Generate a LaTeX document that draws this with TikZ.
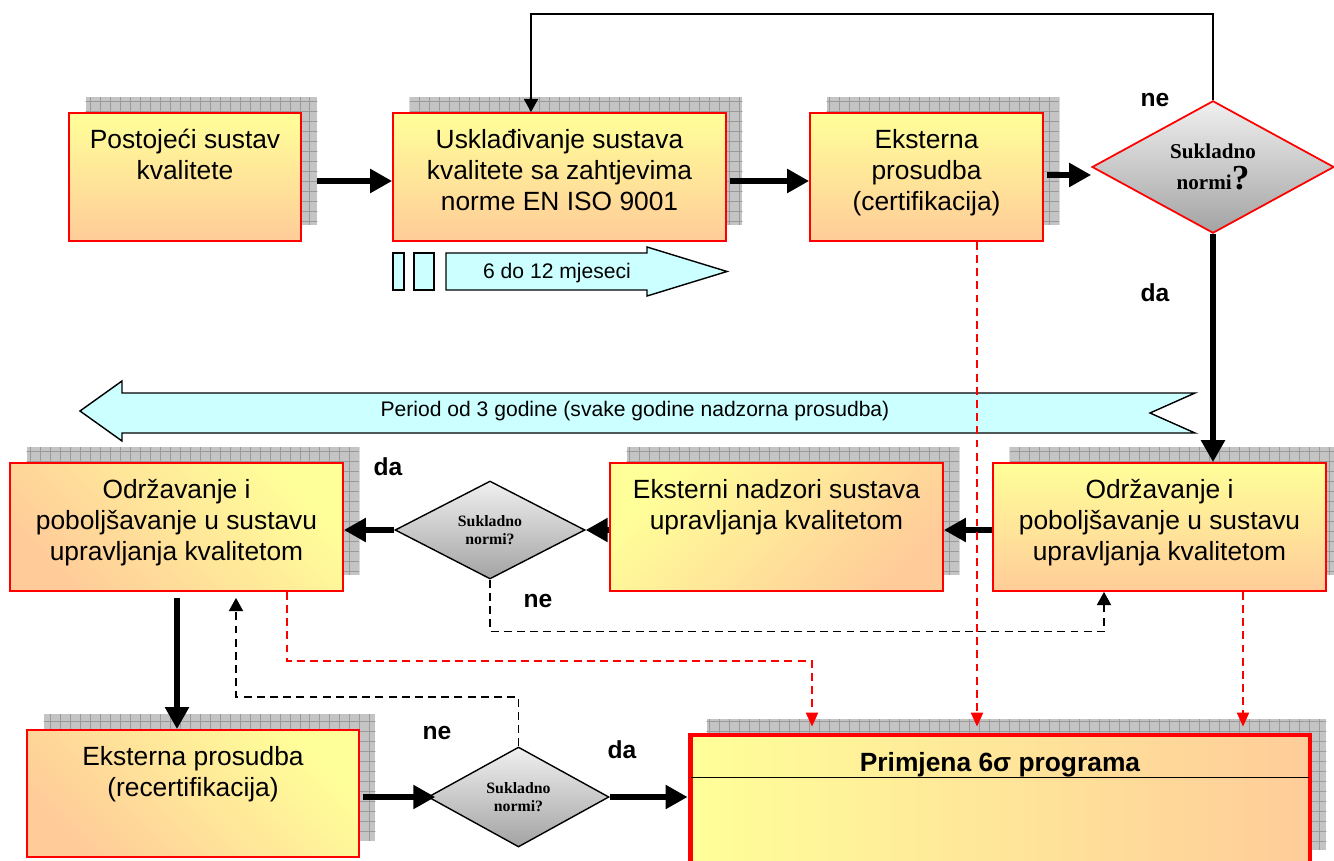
\documentclass[tikz,border=0pt]{standalone}
\usepackage{fontspec}
\setmainfont{Liberation Sans}
\newfontfamily\tnr{Liberation Serif}
\usetikzlibrary{arrows.meta,calc,positioning,shapes.geometric,shadows,patterns.meta}
\definecolor{boxY}{HTML}{FFFF99}
\definecolor{boxO}{HTML}{FFCC99}
\definecolor{boxD}{HTML}{FF0000}
\definecolor{shadeF}{HTML}{C4C4C4}
\definecolor{shadeD}{HTML}{9A9A9A}
\definecolor{blockF}{HTML}{CCFFFF}
\tikzset{
  boxshadow/.style={general shadow={shadow xshift=0.33cm, shadow yshift=0.32cm, fill=shadeF},
                    general shadow={shadow xshift=0.33cm, shadow yshift=0.32cm,
                      pattern={Hatch[angle=0,distance=0.2cm,line width=0.5pt]}, pattern color=shadeD}},
  box/.style={boxshadow, draw=boxD, line width=1pt, top color=boxY, bottom color=boxO,
              minimum width=6.66cm, minimum height=2.56cm, inner sep=0pt},
  boxtxt/.style={label={[btext]north:{#1}}},
  btext/.style={anchor=north, yshift=-9.5pt, align=center, inner sep=0pt,
                font=\fontsize{15}{17.6}\selectfont},
  chk/.style={diamond, draw=black, line width=0.8pt, top color=gray!12, bottom color=gray!72,
              inner sep=0pt, align=center, font=\tnr\bfseries\fontsize{9}{10}\selectfont},
  big/.style={-{Triangle[length=12.5pt,width=13pt]}, line width=3.5pt},
  thinarr/.style={-{Triangle[length=7.5pt,width=8pt]}, line width=0.9pt},
  back/.style={thinarr, dash pattern=on 4.5pt off 3pt},
  rback/.style={-{Triangle[length=8pt,width=7pt]}, draw=red, line width=0.8pt, dash pattern=on 4.5pt off 3pt},
  lab/.style={font=\bfseries\fontsize{14}{16}\selectfont},
  blockarr/.style={draw, line width=0.8pt, fill=blockF, line join=miter},
}

\begin{document}
\begin{tikzpicture}[x=0.02cm, y=-0.02cm]
\useasboundingbox (0,0) rectangle (1334,861);
% top row
\node[box, minimum width=4.64cm, boxtxt={Postojeći sustav\\kvalitete}] (postoj) at (185,177) {};
\node[box, boxtxt={Usklađivanje sustava\\kvalitete sa zahtjevima\\norme EN ISO 9001}] (uskl) at (559.5,177) {};
\node[box, minimum width=4.66cm, boxtxt={Eksterna\\prosudba\\(certifikacija)}] (certif) at (926.5,177) {};
\node[chk, draw=red, line width=1pt, minimum width=4.84cm, minimum height=2.54cm,
      font=\tnr\bfseries\fontsize{12}{18}\selectfont] (chkA) at (1213,167) {Sukladno\\normi{\fontsize{20}{18}\selectfont ?}};
% middle row
\node[box, boxtxt={Održavanje i\\poboljšavanje u sustavu\\upravljanja kvalitetom}] (odrzR) at (1159.5,527) {};
\node[box, shading angle=45, boxtxt={Eksterni nadzori sustava\\upravljanja kvalitetom}] (nadzor) at (776.5,527) {};
\node[chk, minimum width=3.8cm, minimum height=1.96cm] (chkB) at (490,530) {Sukladno\\normi?};
\node[box, shading angle=-45, boxtxt={Održavanje i\\poboljšavanje u sustavu\\upravljanja kvalitetom}] (odrzL) at (176.5,527) {};
% bottom row
\node[box, minimum width=6.64cm, minimum height=2.54cm, shading angle=-45,
      boxtxt={Eksterna prosudba\\(recertifikacija)}] (recert) at (193,793.5) {};
\node[chk, minimum width=3.62cm, minimum height=2cm] (chkC) at (518.5,797) {Sukladno\\normi?};
\node[box, left color=boxY, right color=boxO, line width=2.8pt,
      minimum width=12.4cm, minimum height=2.62cm] (primj) at (1000,800.5) {};
\draw[line width=1pt] ($(primj.north west)+(3,45)$) -- ($(primj.north east)+(-3,45)$);
\node[font=\bfseries\fontsize{15}{17}\selectfont] (primjT) at (1000,765) {Primjena 6σ programa};

% duration arrows
\draw[blockarr] (393,253) rectangle (404,290);
\draw[blockarr] (414,253) rectangle (434,290);
\draw[blockarr] (446,253) -- (647,253) -- (647,247) -- (727,271.5) -- (647,296) -- (647,290) -- (446,290) -- cycle;
\node[font=\fontsize{12}{14}\selectfont] (durA) at (557,273) {6 do 12 mjeseci};
\draw[blockarr] (80,411) -- (122,381) -- (122,393) -- (1195,393) -- (1150,413) -- (1195,433)
  -- (122,433) -- (122,441) -- cycle;
\node[font=\fontsize{12}{14}\selectfont] (durB) at (635,411) {Period od 3 godine (svake godine nadzorna prosudba)};

% main flow
\draw[big] ($(postoj.east)+(15,4)$) -- ($(uskl.west)+(0,4)$);
\draw[big] ($(uskl.east)+(3,4)$) -- ($(certif.west)+(0,4)$);
\draw[big] ($(certif.east)+(3,-2)$) -- ($(chkA.west)+(0,8)$);
\draw[big] (chkA.south) -- (chkA.south |- odrzR.north);
\coordinate (retop) at (531,14);
\draw[thinarr] (chkA.north) |- (retop) -- (retop |- uskl.north);
\draw[big] ($(odrzR.west)+(0,3)$) -- ($(nadzor.east)+(0,3)$);
\draw[big] ($(nadzor.west)+(0,3)$) -- (chkB.east);
\draw[big] (chkB.west) -- (odrzL.east |- chkB.west);
\draw[back] (chkB.south) -- ++(0,52) -| ($(odrzR.south)+(-55.5,0)$);
\draw[big] ($(odrzL.south)+(0.5,6)$) -- ($(odrzL.south |- recert.north)+(0.5,0)$);
\coordinate (backC) at (236,697);
\draw[back] (chkC.north) |- (backC) -- ($(backC |- odrzL.south)+(0,6)$);
\draw[big] ($(recert.east |- chkC.west)+(3,0)$) -- ($(chkC.west)+(8,0)$);
\draw[big] (chkC.east) -- (primj.west |- chkC.east);

% red links to the 6 sigma box
\coordinate (redL) at (812,661);
\coordinate (redM) at ($(certif.south)+(50.5,0)$);
\coordinate (redR) at ($(odrzR.south)+(83.5,0)$);
\draw[rback] ($(odrzL.south)+(110.5,0)$) |- (redL) -- ($(redL |- primj.north)+(0,-6)$);
\draw[rback] (redM) -- ($(redM |- primj.north)+(0,-6)$);
\draw[rback] (redR) -- ($(redR |- primj.north)+(0,-6)$);

% labels
\node[lab] (neA) at (1155,100) {ne};
\node[lab] (daA) at (1155,293) {da};
\node[lab] (daB) at (388,467) {da};
\node[lab] (neB) at (538,601) {ne};
\node[lab] (neC) at (437,733) {ne};
\node[lab] (daC) at (622,750) {da};
\end{tikzpicture}
\end{document}
